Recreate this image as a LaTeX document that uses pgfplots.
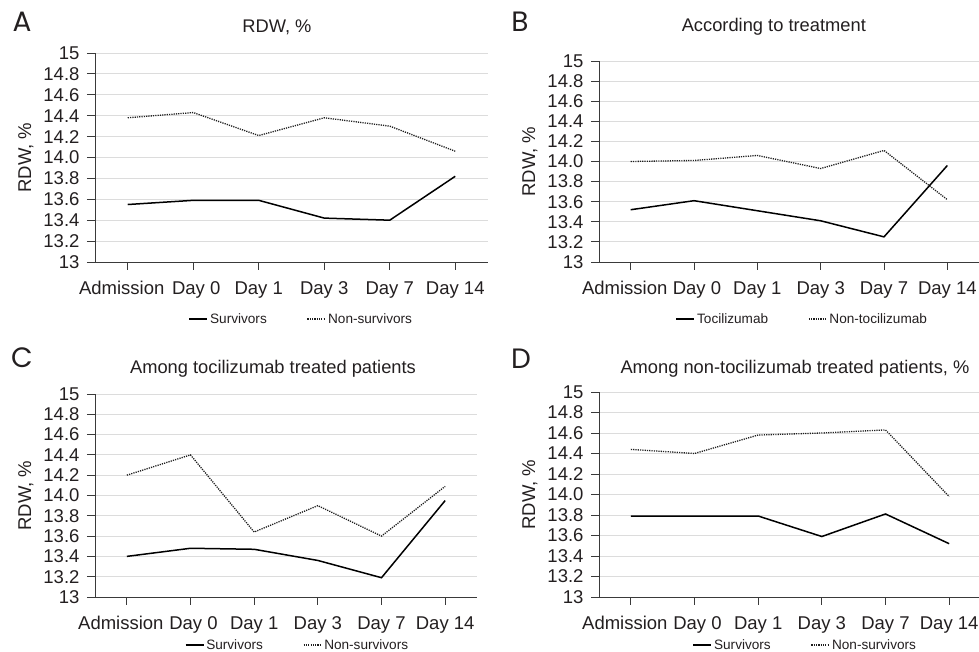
\documentclass[border=0pt]{standalone}
\usepackage{fontspec}
\setmainfont{Liberation Sans}
\newfontfamily\letterfont{Poppins}
\usepackage{pgfplots}
\pgfplotsset{compat=1.18}
\definecolor{txt}{HTML}{231F20}
\definecolor{axl}{HTML}{3A3A3A}
\definecolor{grd}{HTML}{DCDCDC}
\definecolor{dotc}{HTML}{1E1E1E}
\pgfplotsset{
  panel/.style={
    scale only axis,
    xmin=-0.5, xmax=5.5, ymin=13, ymax=15,
    xtick={0,1,2,3,4,5},
    xticklabels={\kern-12pt Admission,Day 0\kern-6pt,Day 1,Day 3,Day 7,Day 14},
    ytick={13,13.2,13.4,13.6,13.8,14,14.2,14.4,14.6,14.8,15},
    yticklabels={13,13.2,13.4,13.6,13.8,14.0,14.2,14.4,14.6,14.8,15},
    axis x line*=bottom, axis y line*=left,
    axis line style={axl, line width=0.9pt},
    tick align=outside, major tick length=8pt,
    tick style={axl, line width=0.9pt},
    ymajorgrids, grid style={grd, line width=0.8pt},
    tick label style={font=\fontsize{18.5}{20}\selectfont, text=txt},
    xticklabel style={yshift=-8pt},
    yticklabel style={xshift=-4pt},
    label style={font=\fontsize{18.5}{20}\selectfont, text=txt},
    title style={font=\fontsize{18.3}{20}\selectfont, text=txt, anchor=center, yshift=0pt},
    ylabel={RDW, \%},
    ylabel style={at={([xshift=-69pt]axis description cs:0,0.5)}, anchor=center},
    legend columns=2,
    legend style={draw=none, fill=none, font=\fontsize{13.6}{15}\selectfont, text=txt,
      /tikz/every even column/.append style={column sep=38pt}, anchor=center},
    legend image code/.code={\draw[#1] (0pt,0pt) -- (18pt,0pt);},
  },
  surv/.style={black, line width=1.5pt, no markers},
  nons/.style={dotc, line width=1.3pt, dash pattern=on 1.2pt off 1.1pt, no markers},
}
\begin{document}
\begin{tikzpicture}
\useasboundingbox (0,0) rectangle (979pt,652pt);
% Panel A
\begin{axis}[panel, at={(95pt,390pt)}, width=393pt, height=209pt,
  title={RDW, \%}, title style={at={([yshift=20pt]axis description cs:0.463,1)}},
  legend style={at={([yshift=-57pt]axis description cs:0.525,0)}}]
\addplot[surv] coordinates {(0,13.55) (1,13.59) (2,13.59) (3,13.42) (4,13.40) (5,13.82)};
\addlegendentry{Survivors}
\addplot[nons] coordinates {(0,14.38) (1,14.43) (2,14.21) (3,14.38) (4,14.30) (5,14.06)};
\addlegendentry{Non-survivors}
\end{axis}
% Panel B
\begin{axis}[panel, at={(599pt,390pt)}, width=380pt, height=201pt,
  title={According to treatment}, title style={at={([yshift=28pt]axis description cs:0.46,1)}},
  legend style={at={([yshift=-57pt]axis description cs:0.535,0)}}]
\addplot[surv] coordinates {(0,13.52) (1,13.61) (2,13.51) (3,13.41) (4,13.25) (5,13.96)};
\addlegendentry{Tocilizumab}
\addplot[nons] coordinates {(0,14.00) (1,14.01) (2,14.06) (3,13.93) (4,14.11) (5,13.62)};
\addlegendentry{Non-tocilizumab}
\end{axis}
% Panel C
\begin{axis}[panel, at={(95pt,55pt)}, width=382pt, height=203pt,
  title={Among tocilizumab treated patients}, title style={at={([yshift=19pt]axis description cs:0.466,1)}},
  legend style={at={([yshift=-48pt]axis description cs:0.53,0)}}]
\addplot[surv] coordinates {(0,13.40) (1,13.48) (2,13.47) (3,13.36) (4,13.19) (5,13.95)};
\addlegendentry{Survivors}
\addplot[nons] coordinates {(0,14.20) (1,14.40) (2,13.64) (3,13.90) (4,13.60) (5,14.09)};
\addlegendentry{Non-survivors}
\end{axis}
% Panel D
\begin{axis}[panel, at={(599pt,55pt)}, width=382pt, height=205pt,
  title={Among non-tocilizumab treated patients, \%}, title style={at={([yshift=17pt]axis description cs:0.513,1)}},
  legend style={at={([yshift=-48pt]axis description cs:0.54,0)}}]
\addplot[surv] coordinates {(0,13.79) (1,13.79) (2,13.79) (3,13.59) (4,13.81) (5,13.52)};
\addlegendentry{Survivors}
\addplot[nons] coordinates {(0,14.44) (1,14.40) (2,14.58) (3,14.60) (4,14.63) (5,13.98)};
\addlegendentry{Non-survivors}
\end{axis}
\node[font=\letterfont\fontsize{28}{30}\selectfont, text=txt] at (22pt,630pt) {A};
\node[font=\letterfont\fontsize{28}{30}\selectfont, text=txt] at (520pt,630pt) {B};
\node[font=\letterfont\fontsize{28}{30}\selectfont, text=txt] at (22pt,294pt) {C};
\node[font=\letterfont\fontsize{28}{30}\selectfont, text=txt] at (521pt,293pt) {D};
\end{tikzpicture}
\end{document}
